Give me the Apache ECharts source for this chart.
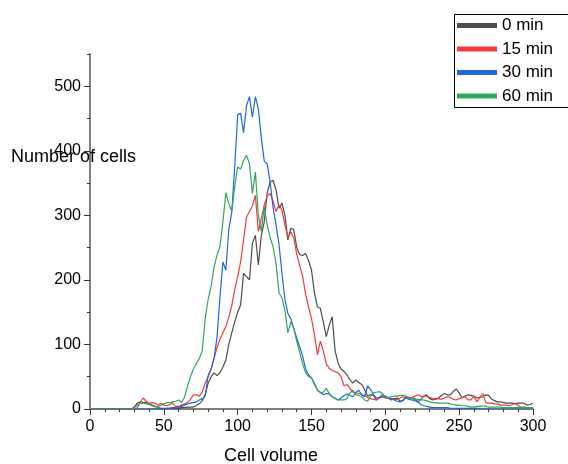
<!DOCTYPE html>
<html>
<head>
<meta charset="utf-8">
<script src="https://cdn.jsdelivr.net/npm/echarts@6/dist/echarts.min.js"></script>
<style>html,body{margin:0;padding:0;background:#fff}#c{width:568px;height:464px}</style>
</head>
<body>
<div id="c"></div>
<script>
const seriesNames = ['0 min', '15 min', '30 min', '60 min'];
const yTickLabels = [0, 100, 200, 300, 400, 500];
const xTickLabels = [0, 50, 100, 150, 200, 250, 300];
const volumes = [0,2,4,6,8,10,12,14,16,18,20,22,24,26,28,30,32,34,36,38,40,42,44,46,48,50,52,54,56,58,60,62,64,66,68,70,72,74,76,78,80,82,84,86,88,90,92,94,96,98,100,102,104,106,108,110,112,114,116,118,120,122,124,126,128,130,132,134,136,138,140,142,144,146,148,150,152,154,156,158,160,162,164,166,168,170,172,174,176,178,180,182,184,186,188,190,192,194,196,198,200,202,204,206,208,210,212,214,216,218,220,222,224,226,228,230,232,234,236,238,240,242,244,246,248,250,252,254,256,258,260,262,264,266,268,270,272,274,276,278,280,282,284,286,288,290,292,294,296,298,300];
const min0 = [0,0,0,0,0,0,0,0,0,0,0,0,0,0,0,3,9,11,10,10,8,6,4,2,1,1,1,1,1,1,1,2,2,3,3,3,5,8,13,22,40,50,56,52,56,65,76,100,118,135,150,161,210,205,200,257,269,223,269,290,335,352,354,339,311,319,300,262,280,278,250,239,238,241,230,215,180,158,156,135,112,130,143,90,71,62,58,53,45,40,45,41,38,30,20,22,21,14,18,22,20,17,14,16,17,12,13,19,18,17,16,11,15,20,22,16,14,16,17,21,24,22,22,27,31,25,17,20,22,21,20,17,18,19,22,21,15,13,11,11,10,9,9,9,8,9,9,9,6,7,9];
const min15 = [0,0,0,0,0,0,0,0,0,0,0,0,0,0,0,0,2,10,17,12,9,10,9,6,9,6,5,7,9,4,4,6,8,10,15,22,22,20,26,40,50,62,78,95,108,118,128,142,160,185,205,228,262,297,306,315,331,275,295,316,330,334,322,306,316,308,285,266,274,265,240,222,205,178,158,140,115,84,105,90,70,63,60,58,56,50,36,38,32,26,25,24,22,21,18,16,15,14,17,19,17,17,16,15,15,17,19,17,17,18,20,22,20,19,19,18,16,15,16,15,17,19,18,15,14,16,18,19,14,14,20,11,18,24,10,9,9,8,8,6,6,6,5,7,9,5,3,3,2,2,2];
const min30 = [0,0,0,0,0,0,0,0,0,0,0,0,0,0,0,0,0,0,0,0,0,0,0,0,0,0,1,1,2,2,3,4,6,8,9,10,11,14,16,20,52,62,78,111,173,228,215,278,305,375,456,458,428,470,484,452,484,465,420,384,380,351,312,285,255,210,170,148,140,125,110,96,82,62,53,48,40,29,26,22,24,23,19,17,14,17,21,23,21,19,26,29,22,19,36,30,22,17,18,19,18,17,16,14,12,11,14,17,15,14,13,11,7,5,4,3,2,2,2,2,2,2,1,1,1,1,1,1,1,1,1,1,1,0,0,0,0,0,0,0,0,0,0,0,0,0,0,0,0,0,0];
const min60 = [0,0,0,0,0,0,0,0,0,0,0,0,0,0,0,2,6,9,9,8,7,5,4,3,6,8,10,10,11,12,14,10,18,35,50,62,70,78,90,140,170,190,220,238,252,290,335,318,306,345,375,372,385,393,380,334,367,300,275,313,285,266,251,225,180,172,153,118,135,125,105,88,70,56,50,48,38,29,25,26,32,24,19,16,14,14,14,16,25,29,22,21,19,14,12,20,25,26,27,24,18,18,19,20,20,21,21,20,17,16,15,15,14,14,13,11,10,10,9,9,9,9,8,7,6,6,5,5,4,3,3,4,4,5,4,3,3,3,3,3,2,2,2,2,2,2,2,2,2,2,2];
const seriesValues = [min0, min15, min30, min60];
const seriesColors = ['#4d4d4d', '#f03c3c', '#1f66e0', '#30a85c'];

const FONT = '"Liberation Sans", Arial, sans-serif';
const chart = echarts.init(document.getElementById('c'), null, {renderer: 'canvas'});
const series = seriesNames.map((name, i) => ({
  name, type: 'line', xAxisIndex: 0, yAxisIndex: 0,
  data: volumes.map((v, j) => [v, seriesValues[i][j]]),
  showSymbol: false, symbol: 'none',
  lineStyle: {width: 1.2, color: seriesColors[i]},
  itemStyle: {color: seriesColors[i]},
  animation: false
}));
chart.setOption({
  animation: false,
  backgroundColor: '#fff',
  textStyle: {fontFamily: FONT},
  grid: {left: 90, right: 35, top: 54, bottom: 55, containLabel: false},
  legend: {
    data: seriesNames, orient: 'vertical', left: 454, top: 14,
    icon: 'rect', itemWidth: 40, itemHeight: 5, itemGap: 6.5,
    padding: [3, 3, 3, 3], borderWidth: 0,
    textStyle: {fontFamily: FONT, fontSize: 17, color: '#000'}
  },
  xAxis: [{
    type: 'value', min: 0, max: 300, interval: 50,
    axisLine: {show: true, onZero: false, lineStyle: {color: '#808080', width: 2}},
    axisTick: {show: true, length: 6, lineStyle: {color: '#333', width: 1}},
    minorTick: {show: true, splitNumber: 5, length: 3, lineStyle: {color: '#333', width: 1}},
    axisLabel: {fontFamily: FONT, fontSize: 16, color: '#000', margin: 10,
      customValues: xTickLabels},
    splitLine: {show: false}
  }],
  yAxis: [{
    type: 'value', min: 0, max: 550, interval: 100,
    axisLine: {show: true, lineStyle: {color: '#808080', width: 2}},
    axisTick: {show: true, length: 6, lineStyle: {color: '#333', width: 1}, customValues: yTickLabels},
    axisLabel: {fontFamily: FONT, fontSize: 16, color: '#000', margin: 9, customValues: yTickLabels},
    splitLine: {show: false}
  }, {
    type: 'value', min: 0, max: 550, interval: 50, position: 'left',
    axisLine: {show: false},
    axisTick: {show: true, length: 3, lineStyle: {color: '#333', width: 1}},
    axisLabel: {show: false},
    splitLine: {show: false}
  }],
  graphic: [
    {type: 'rect', shape: {x: 454.5, y: 14.5, width: 200, height: 93}, style: {fill: 'none', stroke: '#000', lineWidth: 1}, z: 50, silent: true},
    {type: 'text', left: 11, top: 148, style: {text: 'Number of cells', fontFamily: FONT, fontSize: 18, fill: '#000'}, z: 100},
    {type: 'text', left: 224, top: 447, style: {text: 'Cell volume', fontFamily: FONT, fontSize: 18, fill: '#000'}, z: 100}
  ],
  series
});
</script>
</body>
</html>
